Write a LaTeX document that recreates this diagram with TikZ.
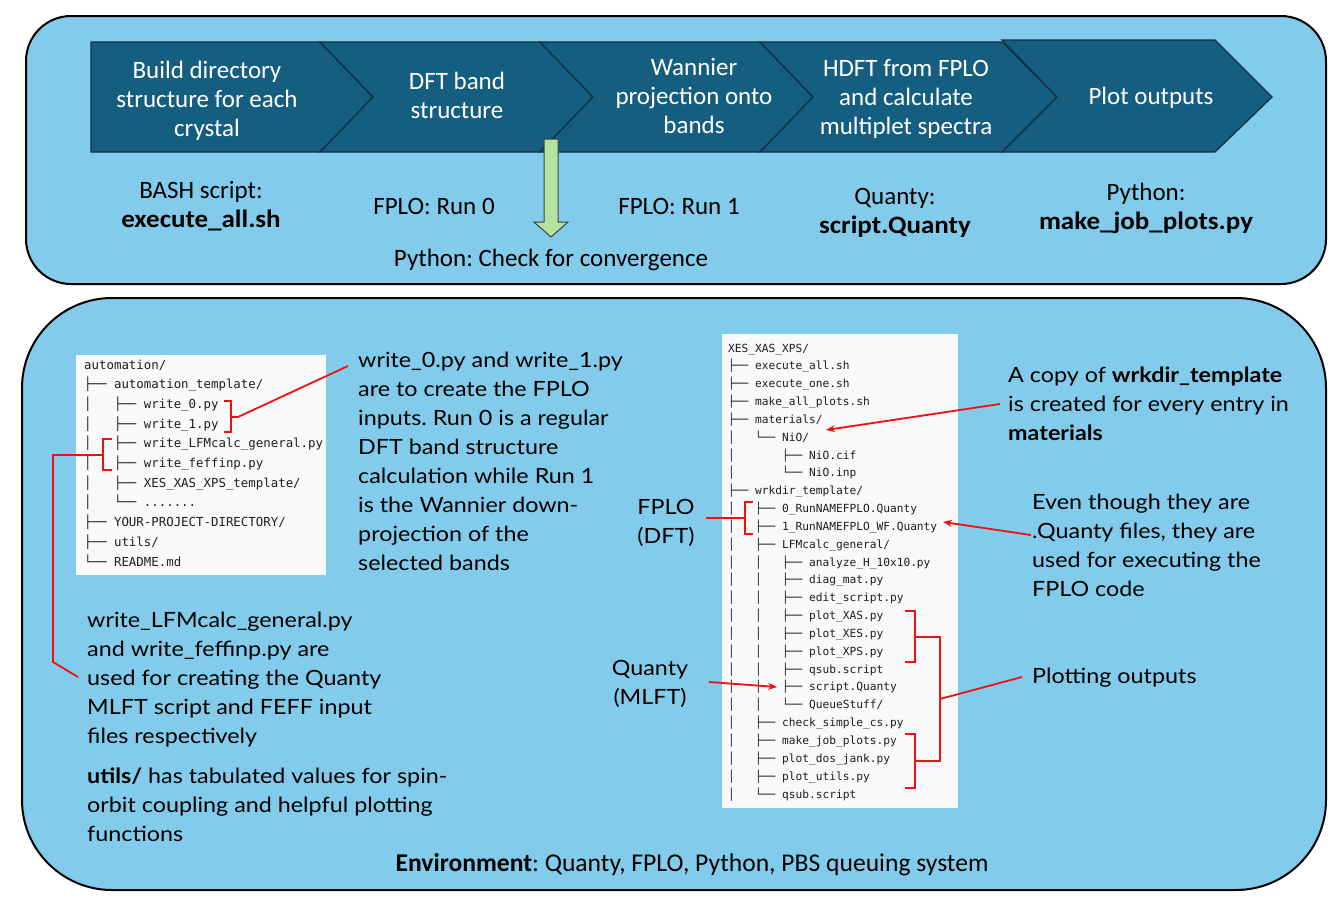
\documentclass[tikz,border=0pt]{standalone}
\usepackage{fontspec}
\setmainfont{Carlito}
\newfontfamily\bodyfont[FakeStretch=1.11]{Lato}
\newfontfamily\wideCarlito[FakeStretch=1.08]{Carlito}
\newfontfamily\treefont{DejaVu Sans Mono}
\usetikzlibrary{arrows.meta}
\definecolor{bgblue}{HTML}{83CBEB}
\definecolor{chevblue}{HTML}{165E7F}
\definecolor{chevedge}{HTML}{0C3249}
\definecolor{treebg}{HTML}{F8F9FA}
\definecolor{treetext}{HTML}{1E1E1E}
\definecolor{arrowgreen}{HTML}{B5E29E}
\definecolor{annred}{HTML}{F01010}
\newcommand{\tB}{├──~}
\newcommand{\tV}{│~~~}
\newcommand{\tE}{└──~}
\newcommand{\tS}{~~~~}
\newcommand{\tDots}{.......}
\newcommand{\wb}[1]{{\wideCarlito\bfseries #1}}
\frenchspacing
\begin{document}
\begin{tikzpicture}[x=1pt,y=-1pt,
  panel/.style={draw=black,line width=2pt,fill=bgblue},
  chev/.style={fill=chevblue,draw=chevedge,line width=1.3pt,line join=miter},
  chevtext/.style={text=white,font=\fontsize{25}{29}\selectfont,align=center,anchor=base,inner sep=0pt},
  toplabel/.style={font=\fontsize{25}{29}\selectfont,align=center,anchor=base,inner sep=0pt},
  body/.style={font=\bodyfont\fontsize{21}{29}\selectfont,align=left,anchor=base west,inner sep=0pt},
  sidelabel/.style={font=\bodyfont\fontsize{21}{29}\selectfont,align=center,anchor=base,inner sep=0pt},
  treeL/.style={font=\treefont\fontsize{12.4}{14}\selectfont,anchor=base west,inner sep=0pt,text=treetext},
  treeR/.style={font=\treefont\fontsize{11.2}{13}\selectfont,anchor=base west,inner sep=0pt,text=treetext},
  redline/.style={draw=annred,line width=1.8pt},
  redarrow/.style={redline,-{Stealth[length=9pt,width=7pt]}},
]
\useasboundingbox (0,0) rectangle (1344,910);
\fill[white] (0,0) rectangle (1344,910);

% panels
\draw[panel,rounded corners=45pt] (26,16) rectangle (1326,284);
\draw[panel,rounded corners=90pt] (22,298) rectangle (1326,890);

% chevrons
\draw[chev] (91,42) -- (320,42) -- (373,97) -- (320,152) -- (91,152) -- cycle;
\draw[chev] (320,42) -- (540,42) -- (593,97) -- (540,152) -- (320,152) -- (373,97) -- cycle;
\draw[chev] (540,42) -- (760,42) -- (813,97) -- (760,152) -- (540,152) -- (593,97) -- cycle;
\draw[chev] (760,42) -- (1002,42) -- (1057,97) -- (1002,152) -- (760,152) -- (813,97) -- cycle;
\draw[chev] (1002,40) -- (1215,40) -- (1272,97) -- (1215,152) -- (1002,152) -- (1057,97) -- cycle;

% (anchor=base = baseline of the last line)
\node[chevtext] (c1) at (207,136) {Build directory\\structure for each\\crystal};
\node[chevtext] (c2) at (457,118) {DFT band\\structure};
\node[chevtext] (c3) at (694,133) {Wannier\\projection onto\\bands};
\node[chevtext] (c4) at (906,134) {HDFT from FPLO\\and calculate\\multiplet spectra};
\node[chevtext] (c5) at (1151,104) {Plot outputs};

% labels under chevrons
\node[toplabel] (l1) at (201,227) {BASH script:\\\wb{execute\_all.sh}};
\node[toplabel] (l2) at (434,214) {FPLO: Run 0};
\node[toplabel] (l3) at (679,214) {FPLO: Run 1};
\node[toplabel] (l4) at (895,233) {Quanty:\\\wb{script.Quanty}};
\node[toplabel] (l5) at (1146,229) {Python:\\\wb{make\_job\_plots.py}};
\node[toplabel] (conv) at (551,266) {Python: Check for convergence};

% green block arrow
\draw[fill=arrowgreen,draw=black!75,line width=1pt,line join=miter]
  (544,139) -- (558,139) -- (558,222) -- (568,222) -- (551,237) -- (534,222) -- (544,222) -- cycle;

% tree backgrounds
\fill[treebg] (76,355) rectangle (326,575);
\fill[treebg] (722,334) rectangle (958,808);

% left tree
\foreach \t [count=\k from 0] in {
  {automation/},
  {\tB automation\_template/},
  {\tV\tB write\_0.py},
  {\tV\tB write\_1.py},
  {\tV\tB write\_LFMcalc\_general.py},
  {\tV\tB write\_feffinp.py},
  {\tV\tB XES\_XAS\_XPS\_template/},
  {\tV\tE \tDots},
  {\tB YOUR-PROJECT-DIRECTORY/},
  {\tB utils/},
  {\tE README.md}}
  \node[treeL] (L\k) at (84,{369+19.7*\k}) {\t};

% right tree
\foreach \t [count=\k from 0] in {
  {XES\_XAS\_XPS/},
  {\tB execute\_all.sh},
  {\tB execute\_one.sh},
  {\tB make\_all\_plots.sh},
  {\tB materials/},
  {\tV\tE NiO/},
  {\tV\tS\tB NiO.cif},
  {\tV\tS\tE NiO.inp},
  {\tB wrkdir\_template/},
  {\tV\tB 0\_RunNAMEFPLO.Quanty},
  {\tV\tB 1\_RunNAMEFPLO\_WF.Quanty},
  {\tV\tB LFMcalc\_general/},
  {\tV\tV\tB analyze\_H\_10x10.py},
  {\tV\tV\tB diag\_mat.py},
  {\tV\tV\tB edit\_script.py},
  {\tV\tV\tB plot\_XAS.py},
  {\tV\tV\tB plot\_XES.py},
  {\tV\tV\tB plot\_XPS.py},
  {\tV\tV\tB qsub.script},
  {\tV\tV\tB script.Quanty},
  {\tV\tV\tE QueueStuff/},
  {\tV\tB check\_simple\_cs.py},
  {\tV\tB make\_job\_plots.py},
  {\tV\tB plot\_dos\_jank.py},
  {\tV\tB plot\_utils.py},
  {\tV\tE qsub.script}}
  \node[treeR] (R\k) at (728,{352+17.84*\k}) {\t};

% body texts (anchor = baseline of last line)
\node[body] (w01) at (358,570) {write\_0.py and write\_1.py\\are to create the FPLO\\inputs. Run 0 is a regular\\DFT band structure\\calculation while Run 1\\is the Wannier down-\\projection of the\\selected bands};
\node[body] (lfm) at (87,743) {write\_LFMcalc\_general.py\\and write\_feffinp.py are\\used for creating the Quanty\\MLFT script and FEFF input\\files respectively};
\node[body] (utl) at (87,841) {\textbf{utils/} has tabulated values for spin-\\orbit coupling and helpful plotting\\functions};
\node[body] (cpy) at (1008,440) {A copy of \textbf{wrkdir\_template}\\is created for every entry in\\\textbf{materials}};
\node[body] (evn) at (1032,596) {Even though they are\\.Quanty files, they are\\used for executing the\\FPLO code};
\node[body] (plo) at (1032,683) {Plotting outputs};
\node[sidelabel] (fplo) at (666,543) {FPLO\\(DFT)};
\node[sidelabel] (qml) at (650,704) {Quanty\\(MLFT)};
\node[toplabel,font=\fontsize{25.6}{29}\selectfont] (env) at (692,871) {\textbf{Environment}: Quanty, FPLO, Python, PBS queuing system};

% red annotation coordinates
\coordinate (bA) at (231,417);
\coordinate (tA) at (348,366);
\coordinate (bB) at (103,455);
\coordinate (tB) at (78,677);
\coordinate (bC) at (745,518);
\coordinate (tC) at (706,518);
\coordinate (bD) at (940,699);
\coordinate (tD) at (1022,677);
\coordinate (sM) at (1000,404);
\coordinate (eM) at (826,430);
\coordinate (sW) at (1031,535);
\coordinate (eW) at (943,522);
\coordinate (sQ) at (709,682);
\coordinate (eQ) at (777,687);

% brackets
\draw[redline] (224,401) -- (231,401) -- (231,432) -- (224,432);
\draw[redline] (bA) -- ++(7,0) -- (tA);
\draw[redline] (112,439) -- (103,439) -- (103,470) -- (112,470);
\draw[redline] (bB) -- (53,455) -- (53,662) -- (tB);
\draw[redline] (753,502) -- (745,502) -- (745,534) -- (753,534);
\draw[redline] (bC) -- (tC);
\draw[redline] (905,611) -- (915,611) -- (915,662) -- (905,662);
\draw[redline] (905,734) -- (915,734) -- (915,788) -- (905,788);
\draw[redline] (915,637) -- (940,637) -- (940,761) -- (915,761);
\draw[redline] (bD) -- (tD);

% arrows
\draw[redarrow] (sM) -- (eM);
\draw[redarrow] (sW) -- (eW);
\draw[redarrow] (sQ) -- (eQ);
\end{tikzpicture}
\end{document}
